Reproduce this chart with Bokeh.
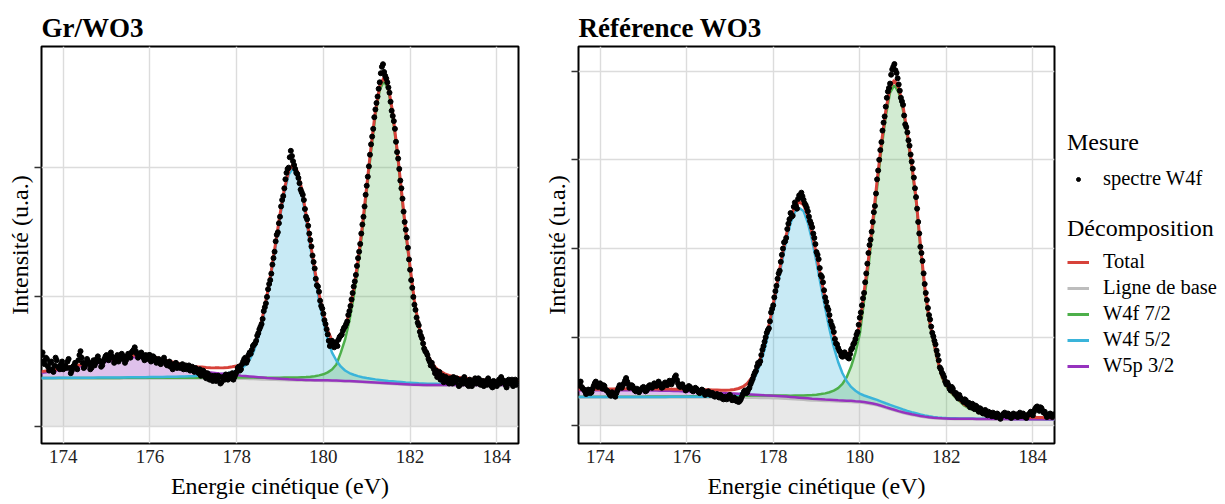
import numpy as np
from bokeh.plotting import figure
from bokeh.models import ColumnDataSource, FixedTicker, Range1d, Legend, LegendItem
from bokeh.layouts import row
from bokeh.embed import file_html
from bokeh.resources import INLINE

# ------------------------------------------------------------------ texts / ticks
panel_titles = ["Gr/WO3", "Référence WO3"]
x_label = "Energie cinétique (eV)"
y_label = "Intensité (u.a.)"
legend_points_title = "Mesure"
legend_points_label = "spectre W4f"
legend_fit_title = "Décomposition"
legend_fit_labels = ["Total", "Ligne de base", "W4f 7/2", "W4f 5/2", "W5p 3/2"]
x_ticks = [174, 176, 178, 180, 182, 184]
gr_y_ticks = [0, 1, 2]
ref_y_ticks = [0, 1, 2, 3, 4]

# sampling grids (eV): fit curves every 0.1 eV; measured points every 0.05 eV
# (main series starting at 173.5, second interleaved series starting at 173.525)
FIT_X0, FIT_DX = 173.5, 0.1
PTS_X0, PTS_DX = 173.5, 0.05
MID_X0 = 173.525

# ------------------------------------------------------------------ Gr/WO3 (left panel)
gr_baseline = [
    0.368, 0.368, 0.368, 0.368, 0.368, 0.368,
    0.368, 0.368, 0.368, 0.368, 0.368, 0.368, 0.368, 0.368, 0.368, 0.368,
    0.368, 0.368, 0.368, 0.368, 0.368, 0.368, 0.368, 0.368, 0.368, 0.368,
    0.368, 0.368, 0.368, 0.368, 0.368, 0.368, 0.368, 0.368, 0.368, 0.368,
    0.368, 0.368, 0.368, 0.368, 0.368, 0.368, 0.368, 0.368, 0.368, 0.367,
    0.366, 0.366, 0.365, 0.364, 0.363, 0.362, 0.361, 0.360, 0.359, 0.358,
    0.357, 0.356, 0.355, 0.354, 0.353, 0.352, 0.352, 0.351, 0.351, 0.350,
    0.350, 0.349, 0.348, 0.347, 0.346, 0.345, 0.344, 0.342, 0.340, 0.338,
    0.336, 0.334, 0.332, 0.330, 0.328, 0.326, 0.324, 0.322, 0.320, 0.319,
    0.318, 0.317, 0.316, 0.315, 0.315, 0.315, 0.315, 0.315, 0.315, 0.315,
    0.315, 0.315, 0.315, 0.315, 0.315, 0.315, 0.315, 0.315, 0.315, 0.315,
    0.315, 0.315, 0.315, 0.315, 0.315,
]
gr_w5p = [
    0.045, 0.050, 0.055, 0.060, 0.066, 0.072,
    0.078, 0.084, 0.090, 0.096, 0.102, 0.108, 0.114, 0.120, 0.126, 0.132,
    0.138, 0.144, 0.150, 0.156, 0.161, 0.165, 0.167, 0.166, 0.162, 0.156,
    0.148, 0.139, 0.129, 0.119, 0.109, 0.099, 0.090, 0.082, 0.075, 0.068,
    0.062, 0.057, 0.052, 0.048, 0.044, 0.040, 0.037, 0.034, 0.031, 0.028,
    0.025, 0.022, 0.020, 0.018, 0.016, 0.014, 0.012, 0.011, 0.010, 0.009,
    0.008, 0.007, 0.007, 0.006, 0.006, 0.005, 0.005, 0.005, 0.005, 0.005,
    0.005, 0.005, 0.005, 0.005, 0.004, 0.004, 0.004, 0.004, 0.004, 0.004,
    0.004, 0.004, 0.004, 0.004, 0.004, 0.004, 0.004, 0.004, 0.004, 0.003,
    0.003, 0.003, 0.003, 0.003, 0.003, 0.003, 0.003, 0.003, 0.003, 0.003,
    0.003, 0.003, 0.003, 0.003, 0.003, 0.003, 0.003, 0.003, 0.003, 0.003,
    0.003, 0.003, 0.003, 0.003, 0.003,
]
gr_w4f52 = [
    0.005, 0.005, 0.005, 0.005, 0.006, 0.006,
    0.006, 0.006, 0.006, 0.007, 0.007, 0.007, 0.007, 0.008, 0.008, 0.008,
    0.008, 0.009, 0.009, 0.009, 0.010, 0.010, 0.010, 0.011, 0.011, 0.012,
    0.012, 0.013, 0.013, 0.014, 0.015, 0.015, 0.016, 0.017, 0.018, 0.019,
    0.022, 0.024, 0.026, 0.028, 0.031, 0.034, 0.038, 0.043, 0.050, 0.060,
    0.077, 0.105, 0.150, 0.220, 0.320, 0.460, 0.625, 0.820, 1.035, 1.255,
    1.450, 1.590, 1.640, 1.590, 1.450, 1.255, 1.035, 0.820, 0.625, 0.460,
    0.320, 0.220, 0.160, 0.115, 0.085, 0.066, 0.054, 0.045, 0.038, 0.034,
    0.031, 0.028, 0.026, 0.024, 0.022, 0.021, 0.020, 0.019, 0.018, 0.017,
    0.016, 0.015, 0.015, 0.014, 0.013, 0.013, 0.012, 0.012, 0.011, 0.011,
    0.011, 0.010, 0.010, 0.010, 0.009, 0.009, 0.009, 0.009, 0.008, 0.008,
    0.008, 0.008, 0.007, 0.007, 0.007,
]
gr_w4f72 = [
    0.004, 0.004, 0.004, 0.004, 0.004, 0.004,
    0.004, 0.004, 0.004, 0.004, 0.005, 0.005, 0.005, 0.005, 0.005, 0.005,
    0.005, 0.005, 0.005, 0.006, 0.006, 0.006, 0.006, 0.006, 0.006, 0.006,
    0.006, 0.006, 0.006, 0.006, 0.006, 0.007, 0.007, 0.007, 0.007, 0.007,
    0.007, 0.008, 0.008, 0.008, 0.008, 0.009, 0.009, 0.009, 0.010, 0.010,
    0.010, 0.011, 0.011, 0.012, 0.012, 0.013, 0.013, 0.014, 0.015, 0.016,
    0.019, 0.021, 0.022, 0.023, 0.026, 0.028, 0.030, 0.035, 0.042, 0.051,
    0.066, 0.089, 0.129, 0.220, 0.323, 0.468, 0.658, 0.892, 1.170, 1.479,
    1.792, 2.071, 2.270, 2.340, 2.270, 2.071, 1.792, 1.479, 1.170, 0.892,
    0.632, 0.445, 0.304, 0.220, 0.159, 0.117, 0.094, 0.075, 0.063, 0.056,
    0.049, 0.044, 0.042, 0.037, 0.035, 0.033, 0.031, 0.028, 0.026, 0.025,
    0.024, 0.023, 0.022, 0.021, 0.020,
]
gr_spectrum = [
    0.55, 0.50, 0.53, 0.46, 0.49, 0.44, 0.47, 0.51, 0.45, 0.48, 0.44, 0.47, 0.50, 0.45, 0.43, 0.47, 0.45, 0.51, 0.58, 0.49,
    0.46, 0.52, 0.48, 0.45, 0.51, 0.49, 0.54, 0.50, 0.47, 0.52, 0.55, 0.51, 0.57, 0.53, 0.50, 0.55, 0.52, 0.56, 0.54, 0.51,
    0.56, 0.53, 0.58, 0.61, 0.56, 0.54, 0.57, 0.53, 0.55, 0.52, 0.55, 0.51, 0.53, 0.49, 0.52, 0.48, 0.51, 0.50, 0.47, 0.50,
    0.48, 0.46, 0.49, 0.47, 0.45, 0.48, 0.46, 0.44, 0.47, 0.45, 0.43, 0.45, 0.42, 0.44, 0.40, 0.42, 0.37, 0.40, 0.38, 0.35,
    0.39, 0.36, 0.38, 0.34, 0.37, 0.40, 0.36, 0.39, 0.41, 0.38, 0.42, 0.46, 0.44, 0.50, 0.53, 0.51, 0.57, 0.59, 0.63, 0.66,
    0.72, 0.77, 0.83, 0.92, 1.00, 1.10, 1.18, 1.30, 1.43, 1.50, 1.62, 1.75, 1.84, 1.96, 2.00, 2.13, 2.05, 1.99, 1.95, 1.88,
    1.81, 1.75, 1.62, 1.55, 1.44, 1.32, 1.22, 1.09, 1.04, 0.93, 0.87, 0.79, 0.71, 0.62, 0.66, 0.61, 0.65, 0.67, 0.70, 0.74,
    0.77, 0.81, 0.89, 0.98, 1.08, 1.17, 1.30, 1.41, 1.56, 1.70, 1.86, 2.01, 2.18, 2.30, 2.45, 2.55, 2.66, 2.78, 2.74, 2.69,
    2.62, 2.51, 2.40, 2.30, 2.12, 1.99, 1.84, 1.66, 1.52, 1.38, 1.21, 1.07, 0.94, 0.84, 0.78, 0.70, 0.64, 0.58, 0.55, 0.50,
    0.49, 0.44, 0.43, 0.40, 0.36, 0.39, 0.35, 0.37, 0.33, 0.36, 0.38, 0.34, 0.36, 0.32, 0.35, 0.38, 0.34, 0.31, 0.35, 0.33,
    0.37, 0.34, 0.36, 0.33, 0.31, 0.35, 0.37, 0.33, 0.30, 0.34, 0.31, 0.36, 0.38, 0.34, 0.32, 0.35, 0.33, 0.36, 0.34, 0.32,
    0.35,
]
gr_spectrum_mid = [
    0.57, 0.48, 0.52, 0.43, 0.50, 0.42, 0.53, 0.46, 0.44, 0.50, 0.46, 0.45, 0.52, 0.41, 0.46, 0.49, 0.44, 0.55, 0.53, 0.45,
    0.49, 0.50, 0.44, 0.49, 0.47, 0.52, 0.51, 0.46, 0.50, 0.54, 0.52, 0.55, 0.54, 0.49, 0.53, 0.50, 0.55, 0.52, 0.49, 0.54,
    0.54, 0.57, 0.59, 0.58, 0.53, 0.56, 0.55, 0.51, 0.54, 0.55, 0.50, 0.54, 0.51, 0.51, 0.49, 0.50, 0.53, 0.48, 0.49, 0.46,
    0.44, 0.48, 0.45, 0.47, 0.46, 0.44, 0.47, 0.45, 0.43, 0.46, 0.42, 0.44, 0.41, 0.39, 0.43, 0.38, 0.41, 0.36, 0.39, 0.37,
    0.35, 0.39, 0.33, 0.38, 0.36, 0.38, 0.40, 0.37, 0.36, 0.40, 0.45, 0.43, 0.48, 0.52, 0.49, 0.55, 0.56, 0.62, 0.64, 0.70,
    0.75, 0.79, 0.89, 0.95, 1.06, 1.13, 1.25, 1.35, 1.48, 1.57, 1.70, 1.78, 1.91, 1.99, 2.08, 2.09, 2.02, 1.96, 1.92, 1.83,
    1.79, 1.68, 1.60, 1.49, 1.39, 1.27, 1.14, 1.08, 0.97, 0.91, 0.82, 0.75, 0.66, 0.65, 0.63, 0.64, 0.62, 0.69, 0.71, 0.76,
    0.79, 0.86, 0.93, 1.03, 1.12, 1.24, 1.35, 1.49, 1.62, 1.79, 1.93, 2.10, 2.24, 2.39, 2.50, 2.61, 2.73, 2.80, 2.71, 2.66,
    2.58, 2.44, 2.36, 2.20, 2.07, 1.90, 1.76, 1.58, 1.46, 1.29, 1.13, 1.00, 0.90, 0.80, 0.73, 0.68, 0.60, 0.57, 0.52, 0.47,
    0.46, 0.41, 0.38, 0.42, 0.38, 0.34, 0.38, 0.34, 0.37, 0.33, 0.35, 0.37, 0.31, 0.36, 0.33, 0.35, 0.32, 0.36, 0.31, 0.35,
    0.33, 0.37, 0.32, 0.35, 0.34, 0.32, 0.35, 0.31, 0.35, 0.32, 0.34, 0.33, 0.36, 0.35, 0.30, 0.36, 0.34, 0.31, 0.36, 0.33,
]

# ------------------------------------------------------------------ Référence WO3 (right panel)
ref_baseline = [
    0.320, 0.320, 0.320, 0.320, 0.320, 0.320,
    0.320, 0.320, 0.320, 0.320, 0.320, 0.320, 0.320, 0.320, 0.320, 0.320,
    0.320, 0.320, 0.320, 0.320, 0.320, 0.320, 0.320, 0.320, 0.320, 0.320,
    0.320, 0.320, 0.320, 0.320, 0.320, 0.320, 0.320, 0.320, 0.320, 0.320,
    0.320, 0.319, 0.319, 0.318, 0.318, 0.317, 0.316, 0.315, 0.314, 0.313,
    0.311, 0.309, 0.306, 0.303, 0.300, 0.297, 0.294, 0.291, 0.288, 0.286,
    0.284, 0.282, 0.280, 0.278, 0.276, 0.274, 0.272, 0.270, 0.267, 0.264,
    0.258, 0.251, 0.242, 0.232, 0.218, 0.203, 0.188, 0.173, 0.159, 0.146,
    0.134, 0.124, 0.115, 0.106, 0.098, 0.092, 0.087, 0.083, 0.080, 0.078,
    0.077, 0.076, 0.076, 0.075, 0.075, 0.075, 0.074, 0.074, 0.074, 0.074,
    0.073, 0.073, 0.073, 0.073, 0.072, 0.072, 0.072, 0.072, 0.072, 0.072,
    0.071, 0.071, 0.071, 0.071, 0.071,
]
ref_w5p = [
    0.080, 0.081, 0.081, 0.082, 0.082, 0.082,
    0.082, 0.083, 0.083, 0.083, 0.083, 0.083, 0.082, 0.082, 0.082, 0.081,
    0.081, 0.080, 0.079, 0.078, 0.077, 0.076, 0.075, 0.073, 0.072, 0.070,
    0.068, 0.066, 0.064, 0.062, 0.060, 0.057, 0.055, 0.052, 0.050, 0.047,
    0.045, 0.043, 0.041, 0.039, 0.037, 0.035, 0.033, 0.031, 0.030, 0.028,
    0.027, 0.026, 0.025, 0.024, 0.023, 0.022, 0.021, 0.020, 0.019, 0.018,
    0.017, 0.016, 0.016, 0.015, 0.014, 0.014, 0.013, 0.013, 0.012, 0.012,
    0.011, 0.011, 0.010, 0.010, 0.010, 0.009, 0.009, 0.009, 0.008, 0.008,
    0.008, 0.007, 0.007, 0.007, 0.007, 0.006, 0.006, 0.006, 0.006, 0.006,
    0.005, 0.005, 0.005, 0.005, 0.005, 0.005, 0.005, 0.005, 0.005, 0.005,
    0.004, 0.004, 0.004, 0.004, 0.004, 0.004, 0.004, 0.004, 0.004, 0.004,
    0.004, 0.004, 0.004, 0.004, 0.004,
]
ref_w4f52 = [
    0.005, 0.005, 0.005, 0.005, 0.005, 0.005,
    0.005, 0.005, 0.005, 0.006, 0.006, 0.006, 0.006, 0.006, 0.006, 0.007,
    0.007, 0.007, 0.007, 0.007, 0.007, 0.008, 0.008, 0.008, 0.008, 0.008,
    0.009, 0.009, 0.010, 0.010, 0.011, 0.011, 0.012, 0.013, 0.015, 0.019,
    0.026, 0.039, 0.060, 0.099, 0.162, 0.255, 0.382, 0.551, 0.760, 1.002,
    1.268, 1.536, 1.782, 1.983, 2.115, 2.160, 2.130, 2.000, 1.800, 1.560,
    1.300, 1.050, 0.810, 0.610, 0.445, 0.320, 0.232, 0.170, 0.130, 0.100,
    0.085, 0.075, 0.068, 0.062, 0.057, 0.053, 0.050, 0.047, 0.044, 0.040,
    0.036, 0.032, 0.028, 0.024, 0.020, 0.017, 0.015, 0.013, 0.012, 0.011,
    0.010, 0.010, 0.009, 0.009, 0.009, 0.008, 0.008, 0.008, 0.008, 0.007,
    0.007, 0.007, 0.007, 0.007, 0.007, 0.006, 0.006, 0.006, 0.006, 0.006,
    0.006, 0.006, 0.005, 0.005, 0.005,
]
ref_w4f72 = [
    0.008, 0.008, 0.008, 0.008, 0.008, 0.008,
    0.009, 0.009, 0.009, 0.009, 0.009, 0.010, 0.010, 0.010, 0.010, 0.010,
    0.011, 0.011, 0.011, 0.011, 0.012, 0.012, 0.012, 0.013, 0.013, 0.013,
    0.014, 0.014, 0.015, 0.015, 0.016, 0.016, 0.017, 0.017, 0.018, 0.019,
    0.020, 0.021, 0.022, 0.023, 0.024, 0.025, 0.026, 0.027, 0.029, 0.030,
    0.032, 0.034, 0.036, 0.038, 0.042, 0.045, 0.050, 0.055, 0.060, 0.066,
    0.075, 0.085, 0.100, 0.120, 0.150, 0.200, 0.280, 0.400, 0.560, 0.770,
    1.156, 1.541, 1.982, 2.459, 2.899, 3.285, 3.571, 3.670, 3.600, 3.410,
    3.120, 2.790, 2.420, 1.910, 1.450, 1.100, 0.860, 0.640, 0.460, 0.367,
    0.300, 0.250, 0.206, 0.160, 0.130, 0.110, 0.090, 0.075, 0.060, 0.048,
    0.040, 0.034, 0.030, 0.027, 0.024, 0.022, 0.020, 0.018, 0.017, 0.016,
    0.015, 0.014, 0.013, 0.012, 0.011,
]
ref_spectrum = [
    0.46, 0.50, 0.42, 0.39, 0.37, 0.40, 0.38, 0.45, 0.50, 0.44, 0.48, 0.42, 0.45, 0.40, 0.37, 0.34, 0.36, 0.33, 0.40, 0.46,
    0.43, 0.48, 0.54, 0.47, 0.44, 0.45, 0.40, 0.42, 0.38, 0.41, 0.44, 0.39, 0.42, 0.46, 0.43, 0.48, 0.45, 0.50, 0.47, 0.44,
    0.49, 0.46, 0.51, 0.47, 0.52, 0.57, 0.48, 0.44, 0.47, 0.43, 0.41, 0.45, 0.42, 0.39, 0.43, 0.40, 0.37, 0.41, 0.38, 0.36,
    0.39, 0.35, 0.37, 0.33, 0.36, 0.32, 0.34, 0.30, 0.33, 0.31, 0.35, 0.29, 0.32, 0.28, 0.27, 0.30, 0.36, 0.40, 0.38, 0.43,
    0.50, 0.57, 0.62, 0.71, 0.73, 0.86, 0.95, 1.05, 1.10, 1.28, 1.36, 1.52, 1.66, 1.75, 1.93, 2.07, 2.12, 2.28, 2.40, 2.37,
    2.52, 2.45, 2.60, 2.63, 2.55, 2.49, 2.42, 2.31, 2.24, 2.12, 1.96, 1.88, 1.70, 1.62, 1.45, 1.34, 1.25, 1.14, 1.06, 0.93,
    0.88, 0.83, 0.78, 0.83, 0.80, 0.76, 0.86, 0.92, 0.98, 1.06, 1.22, 1.36, 1.50, 1.72, 1.95, 2.10, 2.30, 2.48, 2.78, 3.00,
    3.20, 3.42, 3.60, 3.77, 3.86, 4.02, 4.08, 3.98, 3.85, 3.70, 3.62, 3.40, 3.31, 3.16, 2.98, 2.80, 2.58, 2.30, 2.02, 1.86,
    1.60, 1.42, 1.25, 1.12, 1.01, 0.92, 0.80, 0.66, 0.60, 0.55, 0.47, 0.46, 0.40, 0.42, 0.36, 0.33, 0.35, 0.30, 0.27, 0.29,
    0.24, 0.21, 0.25, 0.19, 0.22, 0.16, 0.19, 0.14, 0.18, 0.12, 0.15, 0.11, 0.14, 0.10, 0.13, 0.08, 0.12, 0.15, 0.11, 0.13,
    0.09, 0.14, 0.12, 0.10, 0.15, 0.13, 0.11, 0.09, 0.13, 0.16, 0.12, 0.19, 0.22, 0.17, 0.20, 0.15, 0.13, 0.11, 0.14, 0.10,
    0.12,
]
ref_spectrum_mid = [
    0.49, 0.44, 0.41, 0.36, 0.41, 0.37, 0.42, 0.48, 0.46, 0.47, 0.44, 0.46, 0.41, 0.39, 0.35, 0.38, 0.35, 0.37, 0.43, 0.45,
    0.46, 0.51, 0.50, 0.43, 0.46, 0.42, 0.39, 0.40, 0.40, 0.43, 0.41, 0.40, 0.45, 0.44, 0.46, 0.47, 0.48, 0.46, 0.43, 0.47,
    0.47, 0.49, 0.48, 0.50, 0.55, 0.52, 0.45, 0.46, 0.44, 0.40, 0.43, 0.44, 0.40, 0.41, 0.42, 0.38, 0.39, 0.40, 0.35, 0.38,
    0.36, 0.37, 0.34, 0.35, 0.33, 0.35, 0.31, 0.32, 0.30, 0.34, 0.31, 0.30, 0.29, 0.30, 0.28, 0.33, 0.39, 0.37, 0.41, 0.47,
    0.53, 0.60, 0.67, 0.70, 0.80, 0.90, 1.00, 1.08, 1.18, 1.32, 1.45, 1.58, 1.72, 1.85, 2.00, 2.08, 2.22, 2.33, 2.36, 2.47,
    2.48, 2.56, 2.58, 2.59, 2.51, 2.46, 2.36, 2.28, 2.17, 2.05, 1.93, 1.78, 1.68, 1.53, 1.40, 1.31, 1.18, 1.11, 0.98, 0.92,
    0.85, 0.79, 0.82, 0.79, 0.77, 0.81, 0.88, 0.94, 1.03, 1.14, 1.28, 1.44, 1.62, 1.83, 2.04, 2.19, 2.41, 2.62, 2.88, 3.11,
    3.33, 3.49, 3.70, 3.81, 3.96, 4.05, 4.01, 3.92, 3.78, 3.66, 3.50, 3.37, 3.22, 3.06, 2.90, 2.68, 2.45, 2.17, 1.95, 1.72,
    1.50, 1.33, 1.20, 1.05, 0.96, 0.85, 0.74, 0.64, 0.58, 0.50, 0.49, 0.42, 0.44, 0.38, 0.37, 0.31, 0.32, 0.29, 0.30, 0.25,
    0.26, 0.22, 0.20, 0.23, 0.18, 0.20, 0.15, 0.17, 0.13, 0.16, 0.13, 0.15, 0.11, 0.14, 0.10, 0.11, 0.14, 0.12, 0.14, 0.10,
    0.12, 0.11, 0.13, 0.12, 0.11, 0.14, 0.10, 0.12, 0.14, 0.13, 0.16, 0.21, 0.19, 0.21, 0.17, 0.16, 0.10, 0.13, 0.12, 0.13,
]

# ------------------------------------------------------------------ style
FONT = "'Liberation Serif', 'Times New Roman', Times, serif"
RED = "#D7423A"
GRAY = "#BDBDBD"
GREEN = "#4DAF4A"
CYAN = "#3AB4DA"
PURPLE = "#9632BE"
GRID = "#DCDCDC"
TOP, FRAME_H, BOTTOM = 46, 397, 56


def grid_x(n, x0, dx):
    return np.round(x0 + dx * np.arange(n), 3)


def make_panel(title, bl, w5p, w52, w72, spec, spec_mid, yticks, yrange,
               frame_w, mb_left, mb_right):
    bl = np.asarray(bl)
    w5p = np.asarray(w5p)
    w52 = np.asarray(w52)
    w72 = np.asarray(w72)
    fx = grid_x(len(bl), FIT_X0, FIT_DX)
    total = bl + w5p + w52 + w72
    src = ColumnDataSource(dict(
        x=fx, zero=np.zeros_like(bl), bl=bl,
        p=bl + w5p, c52=bl + w52, c72=bl + w72, total=total))
    px = np.concatenate([grid_x(len(spec), PTS_X0, PTS_DX),
                         grid_x(len(spec_mid), MID_X0, PTS_DX)])
    py = np.concatenate([np.asarray(spec), np.asarray(spec_mid)])
    pts = ColumnDataSource(dict(x=px, y=py))

    p = figure(frame_width=frame_w, frame_height=FRAME_H,
               x_range=Range1d(173.5, 184.5), y_range=Range1d(*yrange),
               output_backend="svg", toolbar_location=None,
               min_border_left=mb_left, min_border_right=mb_right,
               min_border_top=TOP, min_border_bottom=BOTTOM,
               background_fill_color="white", border_fill_color="white")

    p.title.text = title
    p.title.text_font = FONT
    p.title.text_font_size = "27px"
    p.title.text_font_style = "bold"
    p.title.text_color = "black"
    p.title.align = "left"
    p.title.standoff = 8

    p.xaxis.ticker = FixedTicker(ticks=x_ticks)
    p.yaxis.ticker = FixedTicker(ticks=yticks)
    p.yaxis.major_label_overrides = {t: "" for t in yticks}
    p.xaxis.axis_label = x_label
    p.yaxis.axis_label = y_label
    for ax in (p.xaxis[0], p.yaxis[0]):
        ax.axis_label_text_font = FONT
        ax.axis_label_text_font_size = "24px"
        ax.axis_label_text_font_style = "normal"
        ax.axis_label_text_color = "black"
        ax.major_label_text_font = FONT
        ax.major_label_text_font_size = "19px"
        ax.major_label_text_color = "#222222"
        ax.axis_line_color = None
        ax.minor_tick_line_color = None
    p.xaxis.major_tick_out = 0
    p.xaxis.major_tick_in = 0
    p.xaxis.major_label_standoff = 6
    p.xaxis.axis_label_standoff = 7
    p.yaxis.major_tick_out = 7
    p.yaxis.major_tick_in = 0
    p.yaxis.major_tick_line_color = "#333333"
    p.yaxis.major_tick_line_width = 1.3
    p.yaxis.major_label_standoff = 0
    p.yaxis.axis_label_standoff = 2

    p.grid.grid_line_color = GRID
    p.grid.grid_line_width = 1.4
    p.outline_line_color = "black"
    p.outline_line_width = 2

    # filled areas (baseline and the components on top of it)
    p.varea(x="x", y1="zero", y2="bl", source=src, fill_color=GRAY, fill_alpha=0.35)
    p.varea(x="x", y1="bl", y2="p", source=src, fill_color=PURPLE, fill_alpha=0.3)
    p.varea(x="x", y1="bl", y2="c52", source=src, fill_color=CYAN, fill_alpha=0.28)
    p.varea(x="x", y1="bl", y2="c72", source=src, fill_color=GREEN, fill_alpha=0.25)
    # outlines
    p.line(x="x", y="bl", source=src, line_color=GRAY, line_width=2.5)
    p.line(x="x", y="c72", source=src, line_color=GREEN, line_width=2.5)
    p.line(x="x", y="c52", source=src, line_color=CYAN, line_width=2.5)
    p.line(x="x", y="p", source=src, line_color=PURPLE, line_width=2.5)
    p.line(x="x", y="total", source=src, line_color=RED, line_width=3)
    # measured spectrum
    p.scatter(x="x", y="y", source=pts, size=5, fill_color="black",
              line_color="black")
    return p


# y ranges placing the (unlabelled) gridlines where the reference has them
p1 = make_panel(panel_titles[0], gr_baseline, gr_w5p, gr_w4f52, gr_w4f72,
                gr_spectrum, gr_spectrum_mid, gr_y_ticks, (-0.134, 2.937),
                477, 41, 22)
p2 = make_panel(panel_titles[1], ref_baseline, ref_w5p, ref_w4f52, ref_w4f72,
                ref_spectrum, ref_spectrum_mid, ref_y_ticks, (-0.198, 4.278),
                476, 35, 3)

# ------------------------------------------------------------------ legend panel
p3 = figure(frame_width=151, frame_height=FRAME_H, x_range=Range1d(0, 1),
            y_range=Range1d(0, 1), x_axis_type=None, y_axis_type=None,
            output_backend="svg", toolbar_location=None,
            min_border_left=10, min_border_right=0, min_border_top=TOP,
            min_border_bottom=BOTTOM, outline_line_color=None,
            background_fill_color="white", border_fill_color="white")
p3.grid.visible = False
# legend-only renderers: their single points lie outside the visible range
r_dot = p3.scatter(x=[-5], y=[-5], size=4, fill_color="black", line_color="black")
fit_colors = [RED, GRAY, GREEN, CYAN, PURPLE]
r_lines = [p3.line(x=[-5, -4], y=[-5, -5], line_color=c, line_width=3)
           for c in fit_colors]


def style_legend(lg, title_standoff, glyph_h):
    lg.border_line_color = None
    lg.background_fill_alpha = 0
    lg.padding = 0
    lg.margin = 0
    lg.spacing = 3
    lg.glyph_width = 22
    lg.glyph_height = glyph_h
    lg.label_height = 22
    lg.label_standoff = 14
    lg.label_text_font = FONT
    lg.label_text_font_size = "20.5px"
    lg.label_text_color = "black"
    lg.title_text_font = FONT
    lg.title_text_font_size = "24px"
    lg.title_text_font_style = "normal"
    lg.title_text_color = "black"
    lg.title_standoff = title_standoff


legA = Legend(items=[LegendItem(label=legend_points_label, renderers=[r_dot])],
              title=legend_points_title, location=(0, 253))
legB = Legend(items=[LegendItem(label=lab, renderers=[r])
                     for lab, r in zip(legend_fit_labels, r_lines)],
              title=legend_fit_title, location=(0, 66))
style_legend(legA, 11, 10)
style_legend(legB, 8, 22)
p3.add_layout(legA)
p3.add_layout(legB)

layout = row(p1, p2, p3)
open("out.html", "w").write(file_html(layout, INLINE))
